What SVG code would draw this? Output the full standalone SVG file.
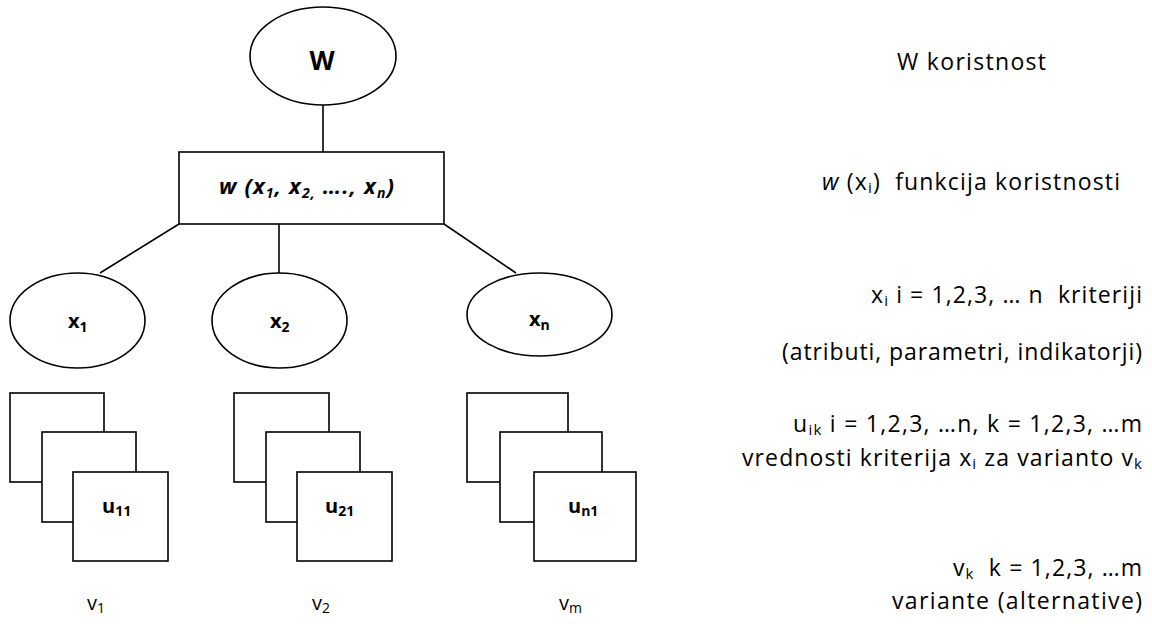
<svg xmlns="http://www.w3.org/2000/svg" width="1152" height="624" viewBox="0 0 1152 624">
<style>
.shape{fill:#fff;stroke:#000;stroke-width:1.6}
.conn line{stroke:#000;stroke-width:1.6}
.t{font-family:"Open Sans","Liberation Sans",sans-serif;fill:#000}
.lb{font-size:20px;font-weight:bold}
.lv{font-size:20px}
.r{font-size:23px}
</style>
<rect width="1152" height="624" fill="#fff"/>
<g id="connectors" class="conn">
<line x1="323" y1="105" x2="323" y2="152"/>
<line x1="179" y1="224" x2="100" y2="273"/>
<line x1="279" y1="224" x2="279" y2="273"/>
<line x1="444" y1="224" x2="516" y2="273"/>
</g>
<g id="node-W">
<ellipse class="shape" cx="323" cy="56" rx="73" ry="49"/>
<text class="t" x="322" y="70" text-anchor="middle" font-size="26" font-weight="bold">W</text>
</g>
<g id="node-w">
<rect class="shape" x="179" y="152" width="265" height="72"/>
<text class="t" x="219" y="194" font-size="22" font-weight="bold" font-style="italic" textLength="175" lengthAdjust="spacing">w (x<tspan font-size="14" dy="4">1</tspan><tspan dy="-4">, x</tspan><tspan font-size="14" dy="4">2,</tspan><tspan dy="-4"> …., x</tspan><tspan font-size="14" dy="4">n</tspan><tspan dy="-4">)</tspan></text>
</g>
<g id="node-x1">
<ellipse class="shape" cx="77.5" cy="320.5" rx="67.5" ry="47.5"/>
<text class="t lb" x="68" y="328">x<tspan font-size="14" dy="4">1</tspan></text>
</g>
<g id="node-x2">
<ellipse class="shape" cx="279.5" cy="320.5" rx="67.5" ry="47.5"/>
<text class="t lb" x="270" y="328">x<tspan font-size="14" dy="4">2</tspan></text>
</g>
<g id="node-xn">
<ellipse class="shape" cx="539.5" cy="314.5" rx="72.5" ry="41.5"/>
<text class="t lb" x="529" y="326">x<tspan font-size="14" dy="4">n</tspan></text>
</g>
<g id="node-v1">
<rect class="shape" x="10" y="393" width="94" height="89"/>
<rect class="shape" x="42" y="432" width="94" height="90"/>
<rect class="shape" x="73" y="472" width="95" height="89"/>
<text class="t lb" x="102" y="513">u<tspan font-size="14" dy="3">11</tspan></text>
<text class="t lv" x="87" y="610">v<tspan font-size="14" dy="3">1</tspan></text>
</g>
<g id="node-v2">
<rect class="shape" x="234" y="393" width="95" height="89"/>
<rect class="shape" x="266" y="432" width="94" height="90"/>
<rect class="shape" x="297" y="472" width="95" height="89"/>
<text class="t lb" x="325" y="513">u<tspan font-size="14" dy="3">21</tspan></text>
<text class="t lv" x="312" y="610">v<tspan font-size="14" dy="3">2</tspan></text>
</g>
<g id="node-vm">
<rect class="shape" x="467" y="393" width="101" height="89"/>
<rect class="shape" x="500" y="432" width="102" height="90"/>
<rect class="shape" x="534" y="472" width="102" height="89"/>
<text class="t lb" x="568" y="513">u<tspan font-size="14" dy="3">n1</tspan></text>
<text class="t lv" x="559" y="610">v<tspan font-size="14" dy="3">m</tspan></text>
</g>
<g id="legend">
<text class="t r" x="897" y="70" textLength="149" lengthAdjust="spacing">W koristnost</text>
<text class="t r" x="822" y="190" textLength="298" lengthAdjust="spacing"><tspan font-style="italic">w</tspan> (x<tspan font-size="15" dy="3">i</tspan><tspan dy="-3">)&#160; funkcija koristnosti</tspan></text>
<text class="t r" x="871" y="303" textLength="271" lengthAdjust="spacing">x<tspan font-size="15" dy="3">i</tspan><tspan dy="-3"> i = 1,2,3, … n&#160; kriteriji</tspan></text>
<text class="t r" x="782" y="360" textLength="360" lengthAdjust="spacing">(atributi, parametri, indikatorji)</text>
<text class="t r" x="793" y="432" textLength="349" lengthAdjust="spacing">u<tspan font-size="15" dy="3">ik</tspan><tspan dy="-3"> i = 1,2,3, …n, k = 1,2,3, …m</tspan></text>
<text class="t r" x="742" y="466" textLength="400" lengthAdjust="spacing">vrednosti kriterija x<tspan font-size="15" dy="3">i</tspan><tspan dy="-3"> za varianto v</tspan><tspan font-size="15" dy="3">k</tspan></text>
<text class="t r" x="953" y="576" textLength="189" lengthAdjust="spacing">v<tspan font-size="15" dy="3">k</tspan><tspan dy="-3">&#160; k = 1,2,3, …m</tspan></text>
<text class="t r" x="892" y="609" textLength="250" lengthAdjust="spacing">variante (alternative)</text>
</g>
</svg>
